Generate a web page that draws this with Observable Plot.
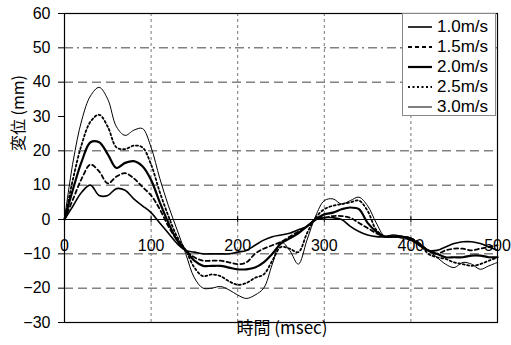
<!DOCTYPE html>
<html>
<head>
<meta charset="utf-8">
<script src="https://cdn.jsdelivr.net/npm/d3@7"></script>
<script src="https://cdn.jsdelivr.net/npm/@observablehq/plot@0.6"></script>
<style>
  body { margin: 0; background: #fff; }
  #wrap { position: relative; width: 511px; height: 345px; font-family: "Liberation Sans", Arial, sans-serif; }
  #legend { position: absolute; left: 402px; top: 13px; width: 94px; height: 103px; background: #fff; border: 1px solid #888; box-sizing: border-box; }
  .row { position: absolute; left: 4px; height: 20px; display: flex; align-items: center; font-size: 17px; color: #000; }
  .row svg { margin-right: 4px; }
</style>
</head>
<body>
<div id="wrap"></div>
<script>
const time = [0,10,20,30,40,50,60,70,80,90,100,110,120,130,140,150,160,170,180,190,200,210,220,230,240,250,260,270,280,290,300,310,320,330,340,350,360,370,380,390,400,410,420,430,440,450,460,470,480,490,500];
const seriesNames = ["1.0m/s","1.5m/s","2.0m/s","2.5m/s","3.0m/s"];
const v10 = [0,4,8,10,7,7,9,8.5,6,4,2,-1,-4,-7,-9,-9.5,-10,-10,-10,-10,-9.5,-9,-7.5,-6,-5,-4.5,-4,-3,-2,0,0.5,0.5,0,-2,-3.5,-4.5,-5,-5,-4.5,-5,-6,-7.5,-9,-9,-8,-7,-6.5,-6.5,-7,-8,-9];
const v15 = [0,6,12,16,14,10.5,12.5,13.5,12,9.5,7,3,-2,-6,-9,-11,-12,-12,-12,-12.5,-13,-12.5,-10,-8.5,-7.5,-6.5,-5,-3.5,-2,0,0.5,1,1,0.5,-1,-2.5,-4,-5,-5,-5,-5.5,-7,-9,-10,-9,-8.5,-8.5,-9,-8.5,-8,-7.5];
const v20 = [0,9,17,22.5,22.5,19,15,16.5,17,15.5,11.5,5,-1,-6,-9,-12,-13.5,-13.5,-13.5,-14,-14.5,-14.5,-14,-12.5,-10,-7,-5.5,-4,-2,0,1.5,2,3,3.5,3,-1,-3.5,-5,-5,-5,-5.5,-7.5,-9,-10,-11,-11,-11,-10.5,-10.5,-11,-11];
const v25 = [0,12,22,28.5,30.5,27,21,20.5,21.5,21,16,8,1,-5,-9,-14,-16.5,-16,-16.5,-18,-19,-18.5,-17,-16,-12,-8,-8.5,-9.5,-4,0.5,3,4,4.5,5,5.5,2.5,-3,-5,-5,-5,-5.5,-7,-10,-11,-11.5,-12.5,-13,-13.5,-13,-12,-11];
const v30 = [0,17,29,36,38.5,35,27,24.5,26,26.5,21,12,4,-3,-10,-17,-20,-20,-19.5,-20.5,-22,-23,-22,-20,-13,-6.5,-9,-13,-6,1,5.5,6,4.5,5.5,6.5,4,-1,-5,-5,-5.5,-6,-7,-9,-11,-13,-14,-12.5,-13,-14.5,-13.5,-12.5];
const yTicks = [-30,-20,-10,0,10,20,30,40,50,60];
const xTicks = [0,100,200,300,400,500];
const dashedGrid = [40,20,10,-10,-20];
const dashDotGrid = [50];
const vGrid = [100,200,300,400];

const styles = [
  {w: 1.6, dash: null},
  {w: 1.8, dash: "4,3"},
  {w: 2.2, dash: null},
  {w: 1.8, dash: "2,2.5"},
  {w: 1.0, dash: null}
];
const values = [v10, v15, v20, v25, v30];
const rows = values.map((vals, i) => time.map((t, j) => ({t, v: vals[j], s: seriesNames[i]})));

const font = "Liberation Sans, Arial, sans-serif";
const cjk = "Noto Sans CJK JP, Liberation Sans, sans-serif";

const chart = Plot.plot({
  width: 511,
  height: 345,
  marginLeft: 64,
  marginRight: 14,
  marginTop: 13,
  marginBottom: 23,
  style: {fontFamily: font, background: "#fff", overflow: "visible"},
  x: {domain: [0, 500]},
  y: {domain: [-30, 60]},
  marks: [
    Plot.ruleY(dashedGrid, {stroke: "#444", strokeDasharray: "9,5", strokeWidth: 1}),
    Plot.ruleY(dashDotGrid, {stroke: "#444", strokeDasharray: "9,4,2,4", strokeWidth: 1}),
    Plot.ruleX(vGrid, {stroke: "#777", strokeDasharray: "3,3", strokeWidth: 1}),
    Plot.ruleY([0], {stroke: "#000", strokeWidth: 1}),
    Plot.ruleX(xTicks, {y1: -1, y2: 1, stroke: "#000"}),
    ...rows.map((r, i) => Plot.line(r, {
      x: "t", y: "v", stroke: "#000", strokeWidth: styles[i].w,
      strokeDasharray: styles[i].dash, curve: "catmull-rom"
    })),
    Plot.text(xTicks, {x: d => d, y: 0, dy: 26, text: d => String(d), fontSize: 16, fill: "#000"}),
    Plot.axisY({ticks: yTicks, tickSize: 6, tickPadding: 8, fontSize: 16, label: null, tickFormat: d => d < 0 ? "\u2212" + Math.abs(d) : String(d)}),
    Plot.axisX({ticks: [], label: null, tickSize: 0}),
    Plot.frame({stroke: "#000", strokeWidth: 1.2}),
    Plot.text(["変位 (mm)"], {frameAnchor: "left", dx: -46, dy: -17, rotate: -90, fontSize: 16, fontFamily: cjk, fill: "#000"}),
    Plot.text(["時間 (msec)"], {frameAnchor: "bottom", dy: 11, dx: 1, fontSize: 17, fontFamily: cjk, fill: "#000"})
  ]
});

const wrap = document.getElementById("wrap");
wrap.appendChild(chart);

const legend = document.createElement("div");
legend.id = "legend";
seriesNames.forEach((name, i) => {
  const row = document.createElement("div");
  row.className = "row";
  row.style.top = (3 + i * 20) + "px";
  const st = styles[i];
  row.innerHTML = `<svg width="26" height="10"><line x1="1" y1="5" x2="25" y2="5" stroke="#000" stroke-width="${st.w}" ${st.dash ? `stroke-dasharray="${st.dash}"` : ""}/></svg><span>${name}</span>`;
  legend.appendChild(row);
});
wrap.appendChild(legend);
</script>
</body>
</html>
